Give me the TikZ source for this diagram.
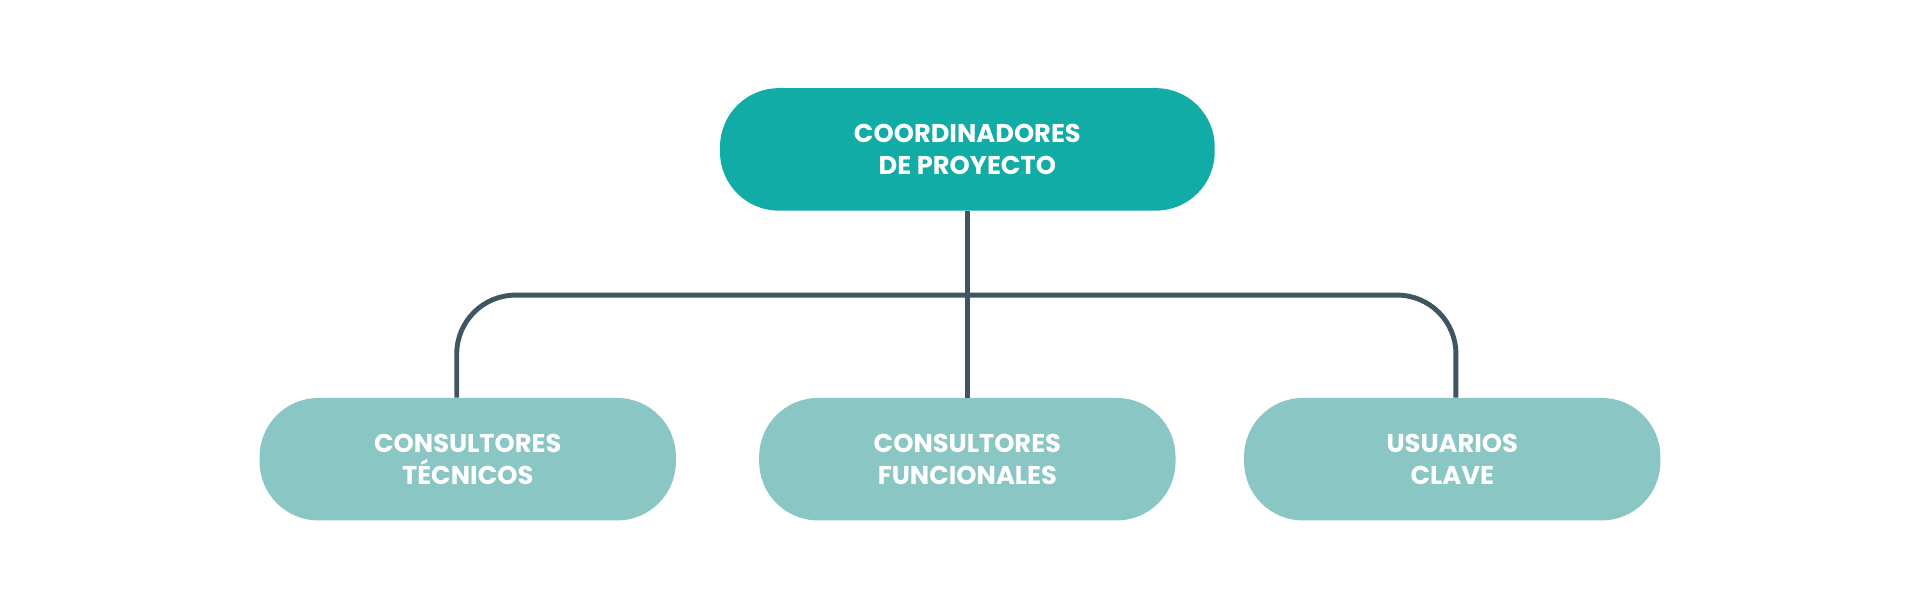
\documentclass[tikz,border=0pt]{standalone}
\usepackage{fontspec}
\setmainfont{Poppins}
\definecolor{topc}{HTML}{12ACA6}
\definecolor{botc}{HTML}{8AC6C4}
\definecolor{linec}{HTML}{3F5560}
\begin{document}
\begin{tikzpicture}[x=1pt,y=-1pt,
  pill/.style={rounded corners=48pt,minimum height=100pt,inner sep=0pt,text=white,
    font=\fontsize{21}{26}\selectfont\bfseries,align=center},
  conn/.style={draw=linec,line width=4pt}]
\useasboundingbox (0,0) rectangle (1568,498);
\node[pill,fill=topc,minimum width=404pt] (top) at (790,122) {COORDINADORES\\DE PROYECTO};
\node[pill,fill=botc,minimum width=340pt] (b1) at (382,375) {CONSULTORES\\TÉCNICOS};
\node[pill,fill=botc,minimum width=340pt] (b2) at (790,375) {CONSULTORES\\FUNCIONALES};
\node[pill,fill=botc,minimum width=340pt] (b3) at (1186,375) {USUARIOS\\CLAVE};
\coordinate (l) at (373,241);
\coordinate (r) at (1189,241);
\draw[conn,rounded corners=48pt] (b1.north -| l) -- (l) -- (r) -- (b3.north -| r);
\draw[conn] (top.south) -- (b2.north);
\end{tikzpicture}
\end{document}
